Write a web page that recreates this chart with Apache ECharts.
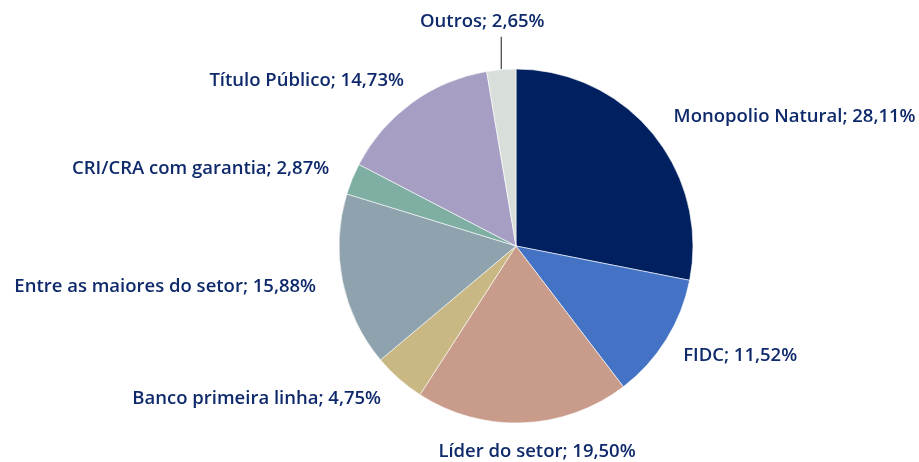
<!DOCTYPE html>
<html>
<head>
<meta charset="utf-8">
<script src="https://cdn.jsdelivr.net/npm/echarts@6/dist/echarts.min.js"></script>
<style>
html,body{margin:0;padding:0;background:#fff;}
#chart{width:919px;height:462px;}
</style>
</head>
<body>
<div id="chart"></div>
<script>
const categories = ["Monopolio Natural", "FIDC", "Líder do setor", "Banco primeira linha", "Entre as maiores do setor", "CRI/CRA com garantia", "Título Público", "Outros"];
const values = [28.11, 11.52, 19.50, 4.75, 15.88, 2.87, 14.73, 2.65];
const colors = ["#002060", "#4472C4", "#C99B8A", "#C9B883", "#8FA3AE", "#7FAEA3", "#A69FC3", "#D8DFDB"];

const chart = echarts.init(document.getElementById('chart'));

const fmt = v => v.toFixed(2).replace('.', ',') + '%';

const data = categories.map((name, i) => {
  const item = { name: name, value: values[i], itemStyle: { color: colors[i] } };
  if (name === 'Outros') {
    item.labelLine = { show: true, length: 33, length2: 0, lineStyle: { color: '#4d4d4d', width: 1.3 } };
  }
  return item;
});

const nudges = { "Título Público": [8, 0], "FIDC": [-6, 2], "CRI/CRA com garantia": [2, 0] };

chart.setOption({
  animation: false,
  backgroundColor: '#ffffff',
  series: [{
    type: 'pie',
    center: [516, 246],
    radius: 177,
    startAngle: 90,
    clockwise: true,
    avoidLabelOverlap: false,
    data: data,
    itemStyle: { borderColor: '#ffffff', borderWidth: 0.6 },
    label: {
      show: true,
      position: 'outside',
      distanceToLabelLine: 0,
      formatter: p => p.name + '; ' + fmt(p.value),
      color: '#0F2A6B',
      fontFamily: 'Open Sans',
      fontWeight: 600,
      fontSize: 18.5
    },
    labelLine: { show: false, length: 27, length2: 0 },
    labelLayout: function (params) {
      const name = categories[params.dataIndex];
      if (name === 'Outros') {
        const pts = params.labelLinePoints;
        const x0 = pts[0][0];
        const yTop = pts[1][1];
        return {
          x: x0 - 19, y: yTop - 5, align: 'center', verticalAlign: 'bottom',
          labelLinePoints: [[x0, pts[0][1]], [x0, yTop], [x0, yTop]]
        };
      }
      if (name === 'Líder do setor') {
        return { x: params.labelRect.x + 13, y: params.labelRect.y + params.labelRect.height / 2 + 2, align: 'center', verticalAlign: 'middle' };
      }
      const n = nudges[name];
      if (n) {
        return { dx: n[0], dy: n[1] };
      }
      return {};
    }
  }]
});
</script>
</body>
</html>
